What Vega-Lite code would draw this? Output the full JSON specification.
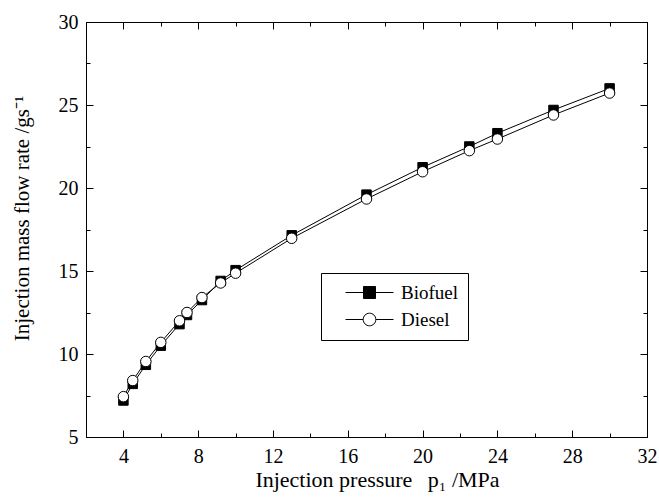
{
  "$schema": "https://vega.github.io/schema/vega-lite/v6.json",
  "width": 561,
  "height": 415,
  "autosize": {"type": "none"},
  "padding": {"left": 86, "top": 22, "right": 12, "bottom": 64},
  "background": "white",
  "config": {
    "view": {"stroke": "black", "strokeWidth": 1},
    "font": "Liberation Serif",
    "axis": {
      "domainColor": "black", "domainWidth": 1, "tickColor": "black", "tickWidth": 1,
      "labelColor": "black", "titleColor": "black",
      "labelFont": "Liberation Serif", "titleFont": "Liberation Serif",
      "labelFontSize": 20, "titleFontSize": 21, "titleFontWeight": "normal",
      "grid": false, "labelFlush": false, "labelOverlap": false
    }
  },
  "data": {"values": [
    {"p": 4, "fuel": "Biofuel", "rate": 7.2},
    {"p": 4.5, "fuel": "Biofuel", "rate": 8.2},
    {"p": 5.2, "fuel": "Biofuel", "rate": 9.35},
    {"p": 6, "fuel": "Biofuel", "rate": 10.5},
    {"p": 7, "fuel": "Biofuel", "rate": 11.8},
    {"p": 7.4, "fuel": "Biofuel", "rate": 12.35},
    {"p": 8.2, "fuel": "Biofuel", "rate": 13.25},
    {"p": 9.2, "fuel": "Biofuel", "rate": 14.4},
    {"p": 10, "fuel": "Biofuel", "rate": 15.05},
    {"p": 13, "fuel": "Biofuel", "rate": 17.15},
    {"p": 17, "fuel": "Biofuel", "rate": 19.6},
    {"p": 20, "fuel": "Biofuel", "rate": 21.25},
    {"p": 22.5, "fuel": "Biofuel", "rate": 22.5},
    {"p": 24, "fuel": "Biofuel", "rate": 23.3},
    {"p": 27, "fuel": "Biofuel", "rate": 24.7},
    {"p": 30, "fuel": "Biofuel", "rate": 26.0},
    {"p": 4, "fuel": "Diesel", "rate": 7.43},
    {"p": 4.5, "fuel": "Diesel", "rate": 8.4},
    {"p": 5.2, "fuel": "Diesel", "rate": 9.55},
    {"p": 6, "fuel": "Diesel", "rate": 10.7},
    {"p": 7, "fuel": "Diesel", "rate": 12.0},
    {"p": 7.4, "fuel": "Diesel", "rate": 12.5},
    {"p": 8.2, "fuel": "Diesel", "rate": 13.4},
    {"p": 9.2, "fuel": "Diesel", "rate": 14.28},
    {"p": 10, "fuel": "Diesel", "rate": 14.87},
    {"p": 13, "fuel": "Diesel", "rate": 16.97},
    {"p": 17, "fuel": "Diesel", "rate": 19.34},
    {"p": 20, "fuel": "Diesel", "rate": 20.98},
    {"p": 22.5, "fuel": "Diesel", "rate": 22.25},
    {"p": 24, "fuel": "Diesel", "rate": 22.95},
    {"p": 27, "fuel": "Diesel", "rate": 24.4},
    {"p": 30, "fuel": "Diesel", "rate": 25.72}
  ]},
  "layer": [
    {
      "mark": {"type": "line", "stroke": "black", "strokeWidth": 1},
      "encoding": {
        "x": {
          "field": "p", "type": "quantitative",
          "scale": {"domain": [2, 32], "nice": false, "zero": false},
          "axis": {
            "orient": "bottom",
            "values": [2, 4, 6, 8, 10, 12, 14, 16, 18, 20, 22, 24, 26, 28, 30, 32],
            "labelExpr": "datum.value % 4 === 0 ? datum.label : ''",
            "tickSize": {"condition": {"test": "datum.value % 4 === 0", "value": -7}, "value": -4},
            "labelPadding": 16,
            "title": "Injection pressure\u2002\u2009p\u2081 /MPa",
            "titleFontSize": 22,
            "titlePadding": 0,
            "titleX": 291
          }
        },
        "y": {
          "field": "rate", "type": "quantitative",
          "scale": {"domain": [5, 30], "nice": false, "zero": false},
          "axis": {
            "orient": "left",
            "values": [5, 7.5, 10, 12.5, 15, 17.5, 20, 22.5, 25, 27.5, 30],
            "labelExpr": "datum.value % 5 === 0 ? datum.label : ''",
            "tickSize": {"condition": {"test": "datum.value % 5 === 0", "value": -7}, "value": -4},
            "labelPadding": 15,
            "title": "Injection mass flow rate /gs\u207b\u00b9",
            "titlePadding": 26,
            "titleY": 196
          }
        },
        "detail": {"field": "fuel", "type": "nominal"}
      }
    },
    {
      "mark": {"type": "point", "filled": true, "stroke": "black", "strokeWidth": 1, "opacity": 1},
      "encoding": {
        "x": {"field": "p", "type": "quantitative", "axis": null},
        "y": {"field": "rate", "type": "quantitative", "axis": null},
        "shape": {"condition": {"test": "datum.fuel === 'Biofuel'", "value": "square"}, "value": "circle"},
        "fill": {"condition": {"test": "datum.fuel === 'Biofuel'", "value": "black"}, "value": "white"},
        "size": {"condition": {"test": "datum.fuel === 'Biofuel'", "value": 90}, "value": 110}
      }
    },
    {
      "mark": {"type": "point", "filled": true, "strokeWidth": 1, "opacity": 0},
      "encoding": {
        "x": {
          "field": "p", "type": "quantitative",
          "axis": {
            "orient": "top", "labels": false, "title": null,
            "values": [2, 4, 6, 8, 10, 12, 14, 16, 18, 20, 22, 24, 26, 28, 30, 32],
            "tickSize": {"condition": {"test": "datum.value % 4 === 0", "value": -7}, "value": -4}
          }
        },
        "y": {
          "field": "rate", "type": "quantitative",
          "axis": {
            "orient": "right", "labels": false, "title": null,
            "values": [5, 7.5, 10, 12.5, 15, 17.5, 20, 22.5, 25, 27.5, 30],
            "tickSize": {"condition": {"test": "datum.value % 5 === 0", "value": -7}, "value": -4}
          }
        },
        "shape": {
          "field": "fuel", "type": "nominal",
          "scale": {
            "domain": ["Biofuel", "Diesel"],
            "range": [
              "M -4 0 L 4 0 M -1 -1 L 1 -1 L 1 1 L -1 1 Z",
              "M -4 0 L -1.05 0 M 1.05 0 L 4 0 M -1.05 0 A 1.05 1.05 0 1 1 1.05 0 A 1.05 1.05 0 1 1 -1.05 0 Z"
            ]
          },
          "legend": {
            "title": null, "orient": "none", "legendX": 235, "legendY": 251,
            "strokeColor": "black", "padding": 10,
            "symbolSize": 144, "symbolOffset": 29, "labelOffset": 22,
            "symbolStrokeWidth": 1, "symbolOpacity": 1,
            "labelFont": "Liberation Serif", "labelFontSize": 19, "labelColor": "black",
            "rowPadding": 7
          }
        },
        "fill": {
          "field": "fuel", "type": "nominal",
          "scale": {"domain": ["Biofuel", "Diesel"], "range": ["black", "white"]},
          "legend": {
            "title": null, "orient": "none", "legendX": 235, "legendY": 251,
            "strokeColor": "black", "padding": 10,
            "symbolSize": 144, "symbolOffset": 29, "labelOffset": 22,
            "symbolStrokeWidth": 1, "symbolOpacity": 1,
            "labelFont": "Liberation Serif", "labelFontSize": 19, "labelColor": "black",
            "rowPadding": 7
          }
        },
        "stroke": {
          "field": "fuel", "type": "nominal",
          "scale": {"domain": ["Biofuel", "Diesel"], "range": ["black", "black"]},
          "legend": {
            "title": null, "orient": "none", "legendX": 235, "legendY": 251,
            "strokeColor": "black", "padding": 10,
            "symbolSize": 144, "symbolOffset": 29, "labelOffset": 22,
            "symbolStrokeWidth": 1, "symbolOpacity": 1,
            "labelFont": "Liberation Serif", "labelFontSize": 19, "labelColor": "black",
            "rowPadding": 7
          }
        }
      }
    }
  ],
  "resolve": {"axis": {"x": "independent", "y": "independent"}}
}
